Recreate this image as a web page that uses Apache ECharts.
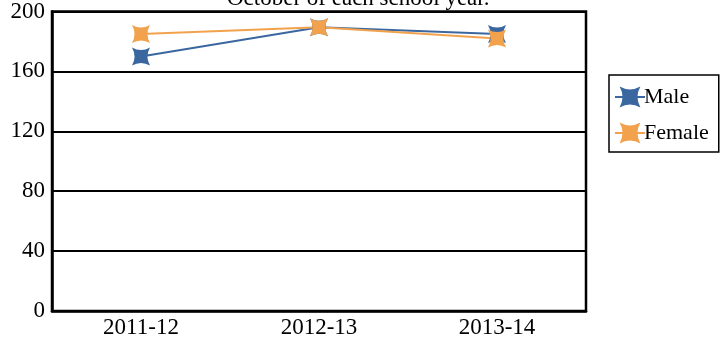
<!DOCTYPE html>
<html><head><meta charset="utf-8">
<script src="https://cdn.jsdelivr.net/npm/echarts@6/dist/echarts.min.js"></script>
<style>html,body{margin:0;padding:0;background:#fff}#c{width:726px;height:339px}</style>
</head><body><div id="c"></div>
<script>
const categories = ['2011-12', '2012-13', '2013-14'];
const maleValues = [170, 189.5, 185];
const femaleValues = [185, 189.5, 182];
const titleText = 'October of each school year.';
const seriesNames = ['Male', 'Female'];

const FONT = '"Liberation Serif", "Times New Roman", serif';
const star = 'path://M0,0 Q50,28 100,0 Q72,50 100,100 Q50,72 0,100 Q28,50 0,0 Z';
const chart = echarts.init(document.getElementById('c'));
chart.setOption({
  animation: false,
  backgroundColor: '#fff',
  graphic: [{
    type: 'text', left: 227, top: -13,
    style: { text: titleText, font: '23px ' + FONT, fill: '#000' }
  }],
  grid: { left: 52, right: 140, top: 10, bottom: 27, show: true, borderColor: '#000', borderWidth: 2.5 },
  legend: {
    orient: 'vertical', left: 609, top: 75,
    padding: [11, 10, 8, 5], itemGap: 14,
    borderColor: '#000', borderWidth: 1.5,
    itemWidth: 30, itemHeight: 26,
    textStyle: { fontFamily: FONT, fontSize: 22, color: '#000', padding: [0, 0, 0, -6] },
    data: seriesNames
  },
  xAxis: {
    type: 'category', data: categories, boundaryGap: true,
    axisLine: { show: true, lineStyle: { color: '#000', width: 2.5 } },
    axisTick: { show: false },
    axisLabel: { fontFamily: FONT, fontSize: 23, color: '#000', margin: 5 }
  },
  yAxis: {
    type: 'value', min: 0, max: 200, interval: 40,
    axisLine: { show: true, lineStyle: { color: '#000', width: 2.5 } },
    axisTick: { show: false },
    splitLine: { lineStyle: { color: '#000', width: 2 } },
    axisLabel: { fontFamily: FONT, fontSize: 23, color: '#000', margin: 7 }
  },
  series: [
    { name: seriesNames[0], type: 'line', data: maleValues, symbol: star, symbolSize: 18,
      itemStyle: { color: '#3b67a0' }, lineStyle: { color: '#3b67a0', width: 2 } },
    { name: seriesNames[1], type: 'line', data: femaleValues, symbol: star, symbolSize: 18,
      itemStyle: { color: '#f2a24c' }, lineStyle: { color: '#f2a24c', width: 2 } }
  ]
});
</script></body></html>
